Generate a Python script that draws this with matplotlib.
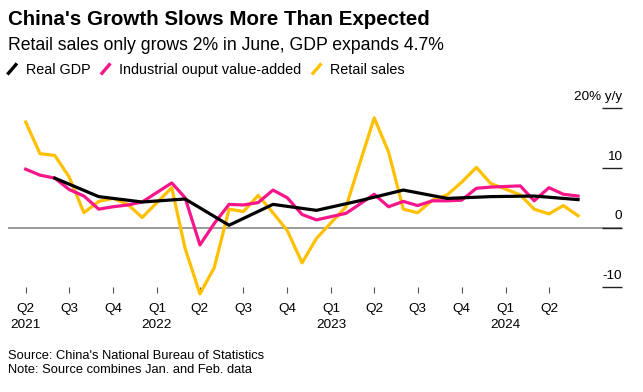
import matplotlib
matplotlib.use("Agg")
import matplotlib.pyplot as plt
import matplotlib.transforms as mtransforms
from matplotlib.lines import Line2D
from matplotlib.legend_handler import HandlerBase
import pandas as pd

# monthly series, Jan + Feb are reported together (plotted at Feb)
retail_sales = [
    17.7, 12.4, 12.1, 8.5, 2.5, 4.4, 4.9, 3.9, 1.7,             # Apr-Dec 2021
    6.7, -3.5, -11.1, -6.7, 3.1, 2.7, 5.4, 2.5, -0.5, -5.9, -1.8,  # 2022
    3.5, 10.6, 18.4, 12.7, 3.1, 2.5, 4.6, 5.5, 7.6, 10.1, 7.4,  # 2023
    5.5, 3.1, 2.3, 3.7, 2.0,                                    # 2024
]
industrial = [
    9.8, 8.8, 8.3, 6.4, 5.3, 3.1, 3.5, 3.8, 4.3,
    7.5, 5.0, -2.9, 0.7, 3.9, 3.8, 4.2, 6.3, 5.0, 2.2, 1.3,
    2.4, 3.9, 5.6, 3.5, 4.4, 3.7, 4.5, 4.5, 4.6, 6.6, 6.8,
    7.0, 4.5, 6.7, 5.6, 5.3,
]
# quarterly, Q2 2021 .. Q2 2024
real_gdp = [8.3, 5.2, 4.3, 4.8, 0.4, 3.9, 2.9, 4.5, 6.3, 4.9, 5.2, 5.3, 4.7]

tick_labels = ["Q2\n2021", "Q3", "Q4", "Q1\n2022", "Q2", "Q3", "Q4",
               "Q1\n2023", "Q2", "Q3", "Q4", "Q1\n2024", "Q2"]
y_ticks = [-10, 0, 10, 20]
y_labels = ["-10", "0", "10", "20% y/y"]

months = pd.date_range("2021-04-01", "2024-06-01", freq="MS")
monthly = months[months.month != 1]
quarterly = pd.date_range("2021-06-01", "2024-06-01", freq="3MS")
quarter_starts = pd.date_range("2021-04-01", "2024-04-01", freq="QS")

BLACK = "#000000"
PINK = "#f7168a"
YELLOW = "#ffc000"

plt.rcParams["font.family"] = ["Liberation Sans", "DejaVu Sans"]

fig = plt.figure(figsize=(6.43, 3.92), dpi=100)
W, H = 643, 392
ax = fig.add_axes([8 / W, (H - 287.3) / H, 614 / W, (287.3 - 96.4) / H])

lw = 2.3
ax.plot(monthly, retail_sales, color=YELLOW, lw=lw, clip_on=False, zorder=3)
ax.plot(monthly, industrial, color=PINK, lw=lw, clip_on=False, zorder=4)
ax.plot(quarterly, real_gdp, color=BLACK, lw=lw, clip_on=False, zorder=5)

ax.axhline(0, color="#8a8a8a", lw=1.2, zorder=1)

ax.set_xlim(pd.Timestamp("2021-02-23"), pd.Timestamp("2024-09-01"))
ax.set_ylim(-10, 22)

for s in ax.spines.values():
    s.set_visible(False)

ax.set_xticks(quarter_starts)
ax.set_xticklabels(tick_labels, fontsize=9.7, linespacing=1.4)
ax.tick_params(axis="x", direction="out", length=4.3, width=0.8,
               color="#555555", pad=7)

ax.yaxis.tick_right()
ax.set_yticks(y_ticks)
ax.set_yticklabels([])
ax.tick_params(axis="y", direction="in", length=14.4, width=1.0,
               color="#222222")
ax.yaxis.get_major_ticks()[1].tick2line.set_color("#8a8a8a")

trans = mtransforms.blended_transform_factory(ax.transAxes, ax.transData)
for v, lab in zip(y_ticks, y_labels):
    ax.annotate(lab, xy=(1.0, v), xycoords=trans, xytext=(0, 6.0),
                textcoords="offset points", ha="right", va="baseline",
                fontsize=9.7)

fig.text(8 / W, 1 - 25 / H, "China's Growth Slows More Than Expected",
         fontsize=14.8, fontweight="bold", va="baseline")
fig.text(8 / W, 1 - 50 / H, "Retail sales only grows 2% in June, GDP expands 4.7%",
         fontsize=12.7, va="baseline")


class SlashHandler(HandlerBase):
    def create_artists(self, legend, orig_handle, xdescent, ydescent,
                       width, height, fontsize, trans):
        x0, y0 = -xdescent, -ydescent
        line = Line2D([x0 + 0.15 * width, x0 + 0.75 * width],
                      [y0 - 0.05 * height, y0 + 1.05 * height],
                      color=orig_handle.get_color(), lw=2.4,
                      solid_capstyle="butt", transform=trans)
        return [line]


handles = [Line2D([], [], color=BLACK), Line2D([], [], color=PINK),
           Line2D([], [], color=YELLOW)]
fig.legend(handles, ["Real GDP", "Industrial ouput value-added", "Retail sales"],
           handler_map={Line2D: SlashHandler()}, loc="center left",
           bbox_to_anchor=(5 / W, 1 - 70 / H), ncol=3, frameon=False,
           fontsize=10.4, handlelength=1.1, handleheight=0.7,
           handletextpad=0.35, columnspacing=0.55, borderaxespad=0,
           borderpad=0)

fig.text(8 / W, 1 - 359 / H, "Source: China's National Bureau of Statistics",
         fontsize=9.3, va="baseline")
fig.text(8 / W, 1 - 373.3 / H, "Note: Source combines Jan. and Feb. data",
         fontsize=9.3, va="baseline")

fig.savefig("out.png", dpi=100)
